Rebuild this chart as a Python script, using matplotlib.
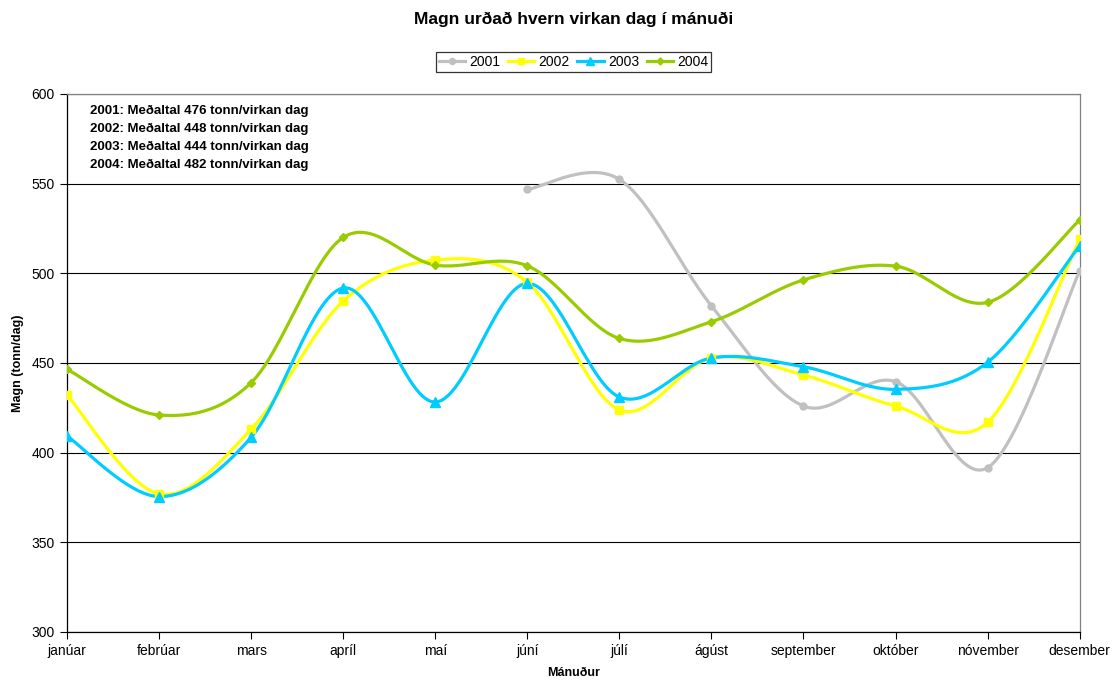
import numpy as np
import matplotlib
matplotlib.use('Agg')
from matplotlib import pyplot as plt

plt.rcParams['font.family'] = ['Liberation Sans', 'DejaVu Sans']

months = ['janúar', 'febrúar', 'mars', 'apríl', 'maí', 'júní', 'júlí',
          'ágúst', 'september', 'október', 'nóvember', 'desember']

# 2001 only from júní onward
y2001 = [None, None, None, None, None, 546.8, 552.4, 481.9, 426.0, 439.6, 391.6, 501.3]
y2002 = [432.1, 377.0, 413.0, 484.5, 507.4, 495.0, 423.8, 452.8, 443.3, 426.0, 416.9, 519.0]
y2003 = [409.3, 375.5, 408.5, 491.8, 428.2, 494.4, 431.0, 452.8, 447.9, 435.3, 450.4, 515.4]
y2004 = [446.5, 421.0, 439.0, 520.0, 504.6, 504.2, 463.7, 473.0, 496.3, 504.0, 483.8, 529.7]

notes = ['2001: Meðaltal 476 tonn/virkan dag',
         '2002: Meðaltal 448 tonn/virkan dag',
         '2003: Meðaltal 444 tonn/virkan dag',
         '2004: Meðaltal 482 tonn/virkan dag']


def smooth(xs, ys, n=30):
    # bezier smoothing like the spreadsheet "smoothed line"
    xs = np.asarray(xs, float)
    ys = np.asarray(ys, float)
    px = np.concatenate([[xs[0]], xs, [xs[-1]]])
    py = np.concatenate([[ys[0]], ys, [ys[-1]]])
    outx, outy = [], []
    t = np.linspace(0, 1, n)
    for i in range(1, len(px) - 2):
        p0 = np.array([px[i], py[i]])
        p3 = np.array([px[i + 1], py[i + 1]])
        c1 = p0 + (np.array([px[i + 1], py[i + 1]]) - np.array([px[i - 1], py[i - 1]])) / 6.0
        c2 = p3 - (np.array([px[i + 2], py[i + 2]]) - np.array([px[i], py[i]])) / 6.0
        b = ((1 - t) ** 3)[:, None] * p0 + (3 * (1 - t) ** 2 * t)[:, None] * c1 \
            + (3 * (1 - t) * t ** 2)[:, None] * c2 + (t ** 3)[:, None] * p3
        outx.extend(b[:, 0])
        outy.extend(b[:, 1])
    return outx, outy


series = [('2001', y2001, '#C0C0C0', 'o', 5.0),
          ('2002', y2002, '#FFFF00', 's', 5.5),
          ('2003', y2003, '#00CCFF', '^', 6.5),
          ('2004', y2004, '#99CC00', 'D', 4.2)]

fig = plt.figure(figsize=(11.2, 6.83), dpi=100)
ax = fig.add_axes([0.0598, 0.0747, 0.9042, 0.7877])

x = np.arange(len(months))
for name, ys, col, mk, ms in series:
    pts = [(xi, yi) for xi, yi in zip(x, ys) if yi is not None]
    xs = [p[0] for p in pts]
    yv = [p[1] for p in pts]
    sx, sy = smooth(xs, yv)
    ax.plot(sx, sy, color=col, lw=2.3, zorder=3)
    ax.plot(xs, yv, ls='none', marker=mk, ms=ms, color=col, zorder=4)
    ax.plot([], [], color=col, lw=2.3, marker=mk, ms=ms * 0.85, label=name)

ax.set_xlim(0, len(months) - 1)
ax.set_ylim(300, 600)
ax.set_yticks(range(300, 601, 50))
ax.set_xticks(x)
ax.set_xticklabels(months)
ax.yaxis.grid(True, color='black', lw=0.8)
ax.set_axisbelow(True)
ax.tick_params(labelsize=10, direction='out', length=5, width=0.8, pad=4)

ax.spines['left'].set_color('black')
ax.spines['bottom'].set_color('black')
ax.spines['top'].set_color('#808080')
ax.spines['right'].set_color('#808080')
for s in ax.spines.values():
    s.set_linewidth(0.9)

ax.set_ylabel('Magn (tonn/dag)', fontsize=9, fontweight='bold', labelpad=5)
ax.set_xlabel('Mánuður', fontsize=9, fontweight='bold', labelpad=6)
fig.suptitle('Magn urðað hvern virkan dag í mánuði', x=0.512, y=0.983,
             fontsize=12.5, fontweight='bold')

leg = fig.legend(loc='center', bbox_to_anchor=(0.512, 0.909), ncol=4,
                 fontsize=10, frameon=True, fancybox=False, handlelength=1.9,
                 handletextpad=0.3, columnspacing=0.55, borderpad=0.2,
                 borderaxespad=0)
leg.get_frame().set_edgecolor('black')
leg.get_frame().set_linewidth(0.9)

for i, t in enumerate(notes):
    fig.text(90 / 1120, 1 - (111 + 18 * i) / 683, t, fontsize=9.5,
             fontweight='bold', va='center', ha='left')

fig.savefig('out.png', dpi=100)
